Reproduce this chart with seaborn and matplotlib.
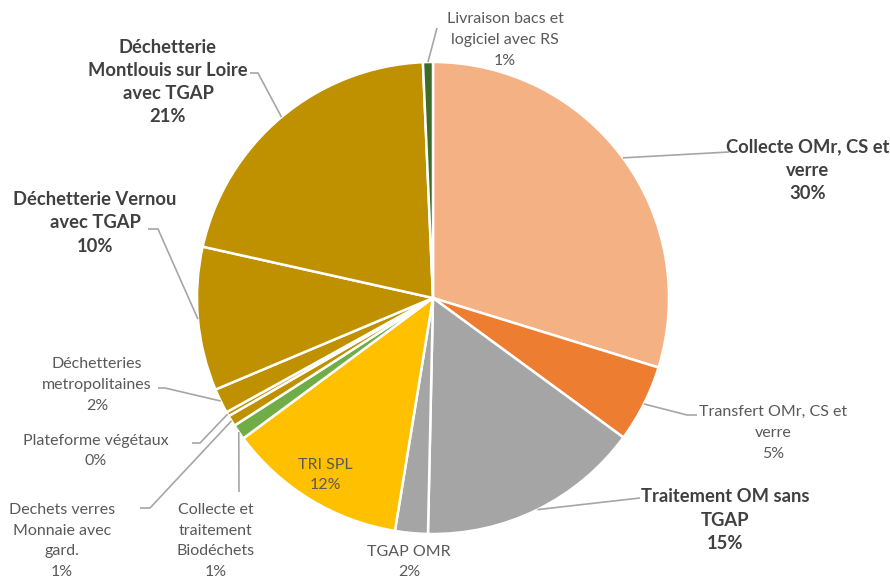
import numpy as np
import matplotlib
matplotlib.use("Agg")
import matplotlib.pyplot as plt
import seaborn as sns

# Cost breakdown (share of total, in %), clockwise from 12 o'clock
categories = [
    "Collecte OMr, CS et\nverre",
    "Transfert OMr, CS et\nverre",
    "Traitement OM sans\nTGAP",
    "TGAP OMR",
    "TRI SPL",
    "Collecte et\ntraitement\nBiodéchets",
    "Dechets verres\nMonnaie avec\ngard.",
    "Plateforme végétaux",
    "Déchetteries\nmetropolitaines",
    "Déchetterie Vernou\navec TGAP",
    "Déchetterie\nMontlouis sur Loire\navec TGAP",
    "Livraison bacs et\nlogiciel avec RS",
]
shares = [29.76, 5.30, 15.28, 2.24, 12.28, 1.05, 0.75, 0.30, 1.70, 9.83, 20.83, 0.68]
colors = ["#F4B183", "#ED7D31", "#A5A5A5", "#A5A5A5", "#FFC000", "#70AD47",
          "#BF9000", "#BF9000", "#BF9000", "#BF9000", "#BF9000", "#3F6B2A"]
bold = [True, False, True, False, False, False, False, False, False, True, True, False]

sns.set_theme(style="white")
plt.rcParams["font.family"] = ["Lato", "DejaVu Sans"]

W, H = 890, 579
fig = plt.figure(figsize=(W / 100, H / 100), dpi=100)
ax = fig.add_axes([0, 0, 1, 1])


def P(x, y):
    """Top-left pixel layout -> axes data coordinates."""
    return x, H - y


cx, cy = P(433, 298)
R = 236
wedges, _ = ax.pie(shares, colors=colors, startangle=90, counterclock=False,
                   center=(cx, cy), radius=R, frame=True,
                   wedgeprops=dict(edgecolor="white", linewidth=1.8))
ax.set_xlim(0, W)
ax.set_ylim(0, H)
ax.set_aspect("equal")
ax.axis("off")


def edge_point(i, r=R):
    w = wedges[i]
    a = np.deg2rad((w.theta1 + w.theta2) / 2)
    return cx + r * np.cos(a), cy + r * np.sin(a)


# label text block centre (pixels) and leader polyline points after the wedge edge
layout = {
    0: dict(pos=(808, 170), path=[(729, 152)]),
    1: dict(pos=(773, 433), path=[(687, 415), (697, 415)]),
    2: dict(pos=(725, 520), path=[(640, 498)]),
    3: dict(pos=(409, 562), path=None),
    4: dict(pos=(325, 475), path=None),
    5: dict(pos=(216, 541), path=[(239, 492)]),
    6: dict(pos=(62, 541), path=[(150, 508), (140, 508)]),
    7: dict(pos=(96, 451), path=[(200, 443), (192, 443)]),
    8: dict(pos=(97, 385), path=[(165, 388), (158, 388)]),
    9: dict(pos=(95, 223), path=[(158, 229), (148, 229)]),
    10: dict(pos=(168, 82), path=[(258, 73), (250, 73)]),
    11: dict(pos=(505, 40), path=[(437, 28)]),
}

line_color = "#A6A6A6"
for i, (name, val) in enumerate(zip(categories, shares)):
    spec = layout[i]
    text = f"{name}\n{round(val):.0f}%"
    x, y = P(*spec["pos"])
    if bold[i]:
        ax.text(x, y, text, ha="center", va="center", fontsize=13.2,
                fontweight="bold", color="#404040", linespacing=1.45)
    else:
        ax.text(x, y, text, ha="center", va="center", fontsize=11.5,
                color="#595959", linespacing=1.62)
    if spec["path"]:
        pts = [edge_point(i)] + [P(*p) for p in spec["path"]]
        xs, ys = zip(*pts)
        ax.plot(xs, ys, color=line_color, linewidth=1.2, solid_capstyle="butt")

fig.savefig("out.png", dpi=100)
